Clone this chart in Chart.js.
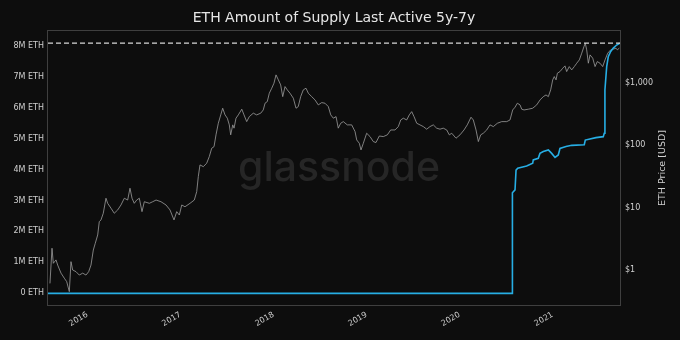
<!DOCTYPE html>
<html>
<head>
<meta charset="utf-8">
<title>ETH Amount of Supply Last Active 5y-7y</title>
<script src="https://cdn.jsdelivr.net/npm/chart.js@4.4.1/dist/chart.umd.min.js"></script>
<style>
  html, body { margin: 0; padding: 0; background: #0d0d0d; }
  #wrap { width: 680px; height: 340px; }
</style>
</head>
<body>
<div id="wrap"><canvas id="supplyChart"></canvas></div>
<script>
// ETH price in USD, x as decimal year
const priceYears = [
  2015.598, 2015.620, 2015.634, 2015.663, 2015.681, 2015.717, 2015.752, 2015.778, 2015.806, 2015.824,
  2015.842, 2015.878, 2015.913, 2015.950, 2015.985, 2016.014, 2016.039, 2016.064, 2016.085, 2016.111,
  2016.128, 2016.146, 2016.171, 2016.200, 2016.218, 2016.254, 2016.289, 2016.326, 2016.361, 2016.397,
  2016.433, 2016.458, 2016.480, 2016.504, 2016.530, 2016.558, 2016.587, 2016.612, 2016.666, 2016.702,
  2016.738, 2016.791, 2016.845, 2016.888, 2016.931, 2016.960, 2016.988, 2017.014, 2017.049, 2017.103,
  2017.149, 2017.175, 2017.192, 2017.210, 2017.246, 2017.282, 2017.310, 2017.336, 2017.361, 2017.382,
  2017.407, 2017.433, 2017.454, 2017.479, 2017.504, 2017.525, 2017.540, 2017.562, 2017.576, 2017.597,
  2017.622, 2017.659, 2017.683, 2017.712, 2017.740, 2017.783, 2017.819, 2017.863, 2017.890, 2017.909,
  2017.933, 2017.955, 2017.981, 2018.005, 2018.027, 2018.052, 2018.077, 2018.099, 2018.124, 2018.148,
  2018.177, 2018.213, 2018.242, 2018.266, 2018.292, 2018.320, 2018.349, 2018.374, 2018.410, 2018.446,
  2018.481, 2018.518, 2018.553, 2018.589, 2018.615, 2018.643, 2018.672, 2018.696, 2018.722, 2018.750,
  2018.793, 2018.840, 2018.876, 2018.894, 2018.922, 2018.940, 2018.965, 2019.001, 2019.037, 2019.072,
  2019.101, 2019.137, 2019.180, 2019.223, 2019.259, 2019.306, 2019.341, 2019.367, 2019.395, 2019.431,
  2019.459, 2019.485, 2019.510, 2019.539, 2019.574, 2019.610, 2019.646, 2019.681, 2019.717, 2019.753,
  2019.789, 2019.824, 2019.861, 2019.889, 2019.915, 2019.961, 2020.004, 2020.047, 2020.082, 2020.122,
  2020.147, 2020.176, 2020.201, 2020.226, 2020.254, 2020.291, 2020.326, 2020.362, 2020.405, 2020.452,
  2020.506, 2020.541, 2020.570, 2020.595, 2020.620, 2020.649, 2020.667, 2020.692, 2020.738, 2020.785,
  2020.828, 2020.864, 2020.899, 2020.928, 2020.953, 2020.978, 2021.000, 2021.017, 2021.036, 2021.050,
  2021.078, 2021.108, 2021.132, 2021.150, 2021.178, 2021.204, 2021.232, 2021.258, 2021.286, 2021.312,
  2021.336, 2021.350, 2021.365, 2021.383, 2021.401, 2021.430, 2021.455, 2021.479, 2021.508, 2021.537,
  2021.562, 2021.591, 2021.623, 2021.651, 2021.680, 2021.694, 2021.716
];
const priceUsd = [
  0.61, 2.23, 1.28, 1.45, 1.20, 0.89, 0.74, 0.65, 0.45, 1.36,
  1.00, 0.94, 0.83, 0.89, 0.83, 0.94, 1.20, 2.09, 2.68, 3.64,
  5.94, 6.33, 8.11, 14.1, 11.7, 9.75, 8.11, 9.16, 11.0, 14.1,
  13.2, 20.4, 14.1, 11.7, 13.2, 14.1, 8.6, 12.4, 11.7, 12.4,
  13.2, 12.4, 11.0, 9.16, 6.33, 8.6, 7.6, 11.0, 10.3, 11.7,
  13.2, 18.0, 31.3, 48.2, 45.2, 51.3, 65.5, 89.2, 94.6, 146,
  224, 305, 390, 305, 270, 211, 146, 211, 187, 270,
  305, 376, 305, 238, 286, 325, 305, 325, 366, 469,
  498, 679, 816, 982, 1334, 1109, 922, 598, 866, 767,
  679, 564, 390, 414, 598, 767, 816, 679, 598, 530,
  441, 480, 469, 414, 305, 270, 286, 187, 224, 238,
  211, 211, 165, 121, 107, 83.8, 107, 155, 137, 114,
  110, 140, 137, 146, 175, 175, 198, 253, 270, 253,
  305, 344, 286, 224, 211, 198, 180, 198, 211, 187,
  180, 187, 175, 146, 155, 129, 146, 175, 211, 280,
  253, 175, 114, 146, 155, 175, 211, 198, 224, 238,
  238, 253, 366, 405, 469, 441, 376, 366, 376, 390,
  441, 530, 598, 637, 598, 767, 1109, 1253, 1109, 1419,
  1507, 1707, 1858, 1507, 1811, 1604, 1811, 2051, 2318, 2970,
  3795, 4297, 3357, 2051, 2790, 2470, 1811, 2178, 2051, 1811,
  2318, 2970, 3357, 3443, 3576, 3357, 3576
];

// ETH whose last activity was 5 to 7 years ago
const supplyYears = [
  2015.577, 2020.566, 2020.567, 2020.595, 2020.606, 2020.624, 2020.720, 2020.785, 2020.791, 2020.845,
  2020.863, 2020.899, 2020.953, 2020.989, 2021.025, 2021.060, 2021.078, 2021.143, 2021.204, 2021.339,
  2021.350, 2021.465, 2021.543, 2021.554, 2021.561, 2021.580, 2021.597, 2021.623, 2021.651, 2021.687,
  2021.720
];
const supplyEth = [
  0, 0, 3250000, 3340000, 3980000, 4040000, 4110000, 4200000, 4310000, 4360000,
  4520000, 4580000, 4630000, 4520000, 4390000, 4470000, 4680000, 4740000, 4780000, 4800000,
  4950000, 5030000, 5060000, 5170000, 6570000, 7320000, 7640000, 7810000, 7920000, 8020000,
  8080000
];

const yearTicks = [2016, 2017, 2018, 2019, 2020, 2021];
const ethTicks = [0, 1000000, 2000000, 3000000, 4000000, 5000000, 6000000, 7000000, 8000000];
const usdTicks = [1, 10, 100, 1000];

const chartTitle = 'ETH Amount of Supply Last Active 5y-7y';
const priceAxisTitle = 'ETH Price [USD]';

const FONT = '"DejaVu Sans", sans-serif';
const xStart = 2015.577;   // 2015-07-30
const xEnd = 2021.723;
const supplyMax = Math.max(...supplyEth);

const toPoints = (xs, ys) => xs.map((x, i) => ({ x: x, y: ys[i] }));

// background, watermark, frame and the texts outside the axes
const decorations = {
  id: 'decorations',
  beforeDraw(chart) {
    const ctx = chart.ctx;
    ctx.save();
    ctx.fillStyle = '#0d0d0d';
    ctx.fillRect(0, 0, chart.width, chart.height);
    ctx.restore();
  },
  beforeDatasetsDraw(chart) {
    const { ctx, chartArea: a } = chart;
    ctx.save();
    ctx.fillStyle = '#262626';
    ctx.font = '500 41px Inter, "Noto Sans", sans-serif';
    ctx.textAlign = 'center';
    ctx.textBaseline = 'middle';
    ctx.fillText('glassnode', (a.left + a.right) / 2 + 5, (a.top + a.bottom) / 2 + 1);
    ctx.restore();
  },
  afterDraw(chart) {
    const { ctx, chartArea: a } = chart;
    ctx.save();
    ctx.strokeStyle = '#3f3f3f';
    ctx.lineWidth = 1;
    ctx.strokeRect(a.left - 0.5, a.top - 0.5, a.right - a.left + 1, a.bottom - a.top + 1);

    ctx.fillStyle = '#e6e6e6';
    ctx.font = '14px ' + FONT;
    ctx.textAlign = 'center';
    ctx.textBaseline = 'middle';
    ctx.fillText(chartTitle, (a.left + a.right) / 2, 18);

    ctx.fillStyle = '#d0d0d0';
    ctx.font = '9.5px ' + FONT;
    ctx.translate(663, (a.top + a.bottom) / 2);
    ctx.rotate(-Math.PI / 2);
    ctx.fillText(priceAxisTitle, 0, 0);
    ctx.restore();
  }
};

const tickFont = { family: FONT, size: 8 };
const tickColor = '#cfcfcf';

new Chart(document.getElementById('supplyChart'), {
  type: 'line',
  data: {
    datasets: [
      {
        label: 'max',
        data: [{ x: xStart, y: supplyMax }, { x: xEnd, y: supplyMax }],
        yAxisID: 'yEth',
        borderColor: '#d8d8d8',
        borderWidth: 1.2,
        borderDash: [5, 3],
        pointRadius: 0
      },
      {
        label: 'Supply Last Active 5y-7y',
        data: toPoints(supplyYears, supplyEth),
        yAxisID: 'yEth',
        borderColor: '#27aee4',
        borderWidth: 1.6,
        pointRadius: 0
      },
      {
        label: 'Price',
        data: toPoints(priceYears, priceUsd),
        yAxisID: 'yUsd',
        borderColor: 'rgba(155, 155, 155, 0.9)',
        borderWidth: 0.9,
        pointRadius: 0
      }
    ]
  },
  options: {
    responsive: true,
    maintainAspectRatio: false,
    animation: false,
    layout: { padding: { top: 31, left: 0, right: 0, bottom: 0 } },
    plugins: {
      legend: { display: false },
      tooltip: { enabled: false },
      title: { display: false }
    },
    scales: {
      x: {
        type: 'linear',
        position: 'bottom',
        min: xStart,
        max: xEnd,
        grid: { display: false, drawTicks: false },
        border: { display: false },
        afterBuildTicks: axis => { axis.ticks = yearTicks.map(v => ({ value: v })); },
        afterFit: axis => { axis.height = 35; },
        ticks: {
          color: tickColor,
          font: tickFont,
          autoSkip: false,
          minRotation: 30,
          maxRotation: 30,
          padding: 5,
          callback: v => String(v)
        }
      },
      yEth: {
        type: 'linear',
        position: 'left',
        min: -377000,
        max: 8473000,
        grid: { display: false, drawTicks: false },
        border: { display: false },
        afterBuildTicks: axis => { axis.ticks = ethTicks.map(v => ({ value: v })); },
        afterFit: axis => { axis.width = 48; },
        ticks: {
          color: tickColor,
          font: tickFont,
          padding: 4,
          callback: v => v === 0 ? '0 ETH' : (v / 1000000) + 'M ETH'
        }
      },
      yUsd: {
        type: 'logarithmic',
        position: 'right',
        min: 0.275,
        max: 6730,
        grid: { display: false, drawTicks: false },
        border: { display: false },
        afterBuildTicks: axis => { axis.ticks = usdTicks.map(v => ({ value: v })); },
        afterFit: axis => { axis.width = 60; },
        ticks: {
          color: tickColor,
          font: tickFont,
          padding: 5,
          callback: v => '$' + v.toLocaleString('en-US')
        }
      }
    }
  },
  plugins: [decorations]
});
</script>
</body>
</html>
